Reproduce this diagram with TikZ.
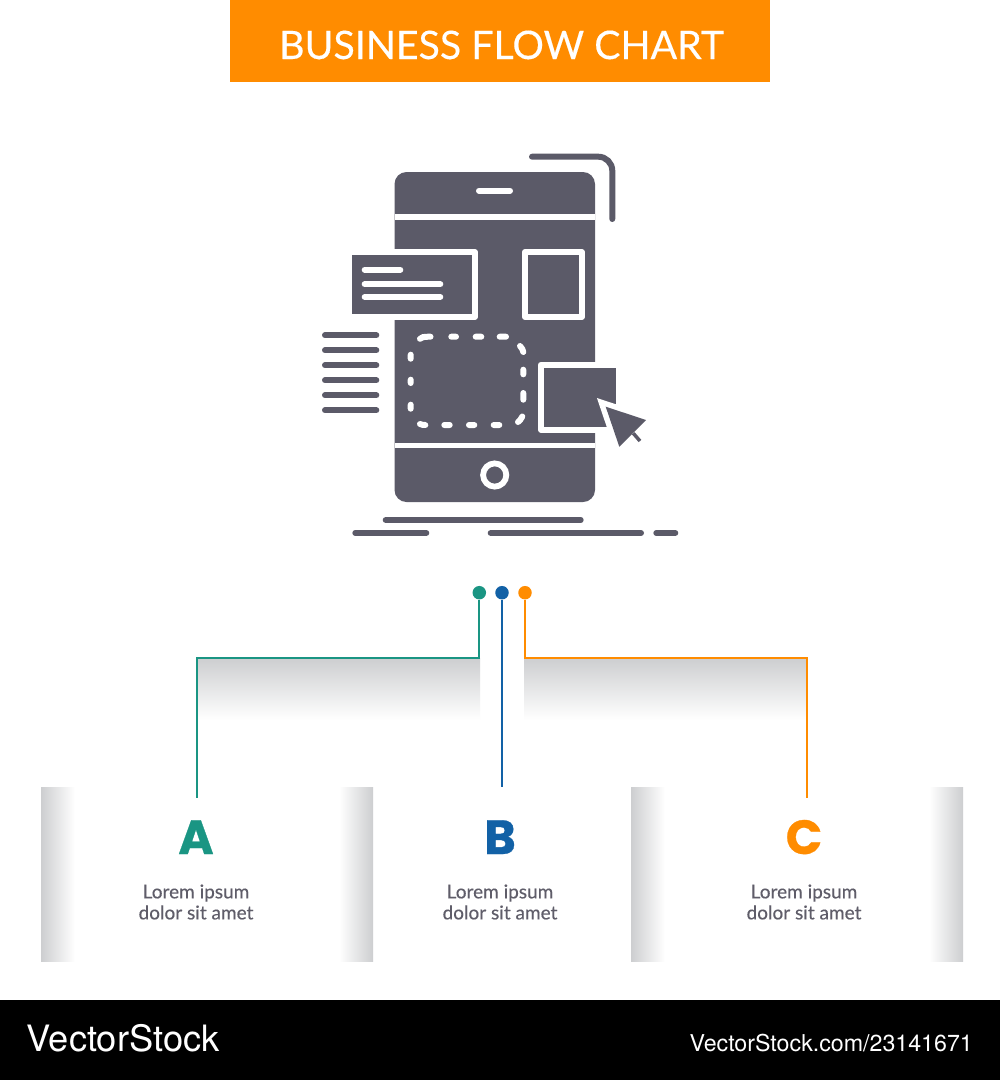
\documentclass[tikz,border=0pt]{standalone}
\usepackage{fontspec}
\setmainfont{Lato}
\newfontfamily\labelfont[FakeBold=0.25]{Lato}
\newfontfamily\letterfont[FakeBold=0.6]{Poppins}
\newfontfamily\markfont{TeX Gyre Heros}
\definecolor{icongray}{HTML}{5B5A68}
\definecolor{labelgray}{HTML}{5F5D69}
\definecolor{fadegray}{HTML}{CDCED0}
\definecolor{midgray}{HTML}{F3F3F4}
\definecolor{markteal}{HTML}{1A9583}
\definecolor{markblue}{HTML}{1261A6}
\definecolor{markorange}{HTML}{FF8C00}
\tikzset{
	iconbar/.style={draw=icongray, line width=6pt, line cap=round},
	whitebar/.style={draw=white, line width=6pt, line cap=round},
	iconcard/.style={draw=white, line width=6pt, line join=round, fill=icongray, inner sep=0pt, minimum height=65pt},
	strip/.style={inner sep=0pt, minimum width=34pt, minimum height=174pt, shading=axis},
	topfade/.style={inner sep=0pt, minimum width=283pt, minimum height=62pt, top color=fadegray, middle color=midgray, bottom color=white},
	dotnode/.style={circle, inner sep=0pt, minimum size=13.5pt},
	wire/.style={line width=2pt},
	letternode/.style={font=\letterfont\bfseries\fontsize{48}{48}\selectfont, anchor=base},
	loremnode/.style={font=\labelfont\fontsize{19}{21}\selectfont, text=labelgray, align=center}
}

\begin{document}
\begin{tikzpicture}[x=1pt, y=-1pt]
\path[use as bounding box, fill=white] (0,0) rectangle (1000,1080);

% header and footer
\node[fill=markorange, inner sep=0pt, minimum width=540pt, minimum height=82pt] (header) at (500,41) {};
\node[text=white, anchor=base, font=\labelfont\fontsize{39.3}{41}\selectfont] (title) at (501.5,59) {BUSINESS FLOW CHART};
\node[fill=black, inner sep=0pt, minimum width=1000pt, minimum height=80pt] (footer) at (500,1040) {};
\node[text=white, anchor=base west, inner sep=0pt, font=\markfont\fontsize{36.3}{36}\selectfont] (markleft) at (26.5,1051.5) {VectorStock};
\node[text=white, anchor=base east, inner sep=0pt, font=\markfont\fontsize{23.2}{24}\selectfont] (markright) at (973,1051) {VectorStock.com/23141671};

% phone
\fill[icongray, rounded corners=12pt] (394.5,172) rectangle (595,502);
\fill[white] (394.5,214) rectangle (595,220);
\fill[white] (394.5,442.7) rectangle (595,448.3);
\draw[whitebar] (479,190.7) -- (510,190.7);
\node[circle, draw=white, line width=5.8pt, fill=icongray, inner sep=0pt, minimum size=23.2pt] (homekey) at (494.7,475) {};
\draw[iconbar, rounded corners=14pt] (532,156.7) -- (612.3,156.7) -- (612.3,219);

% cards
\node[iconcard, minimum width=126pt] (msgcard) at (411.7,284.5) {};
\node[iconcard, minimum width=56.7pt] (piccard) at (553.35,284.5) {};
\draw[whitebar] (364.7,269.7) -- (400.3,269.7);
\draw[whitebar] (364.7,284.3) -- (440.3,284.3);
\draw[whitebar] (364.7,297) -- (440.3,297);

\foreach \j in {335.3, 350.3, 365.3, 380.3, 395.3, 410.3}
	\draw[iconbar] (325,\j) -- (376.3,\j);

% dashed slot
\draw[whitebar] (420,338.8) .. controls (421.5,337.2) and (423,336.7) .. (430.5,336.7)
	(451.3,336.7) -- (456,336.7) (475.7,336.7) -- (481.3,336.7) (499.7,336.7) -- (506,336.7)
	(520,346) .. controls (522,348) and (523,350) .. (523.3,352)
	(523.3,369.7) -- (523.3,374.3) (523.3,393) -- (523.3,399.7)
	(522.3,416.5) .. controls (521,419) and (520,420.5) .. (518,422)
	(499.3,425) -- (493.7,425) (474.3,425) -- (469,425) (449.7,425) -- (444.3,425)
	(425.3,425) .. controls (423,425) and (421.5,424.7) .. (420,424)
	(410.7,408.7) -- (410.7,404.7) (410.7,383) -- (410.7,379.7) (410.7,358.7) -- (410.7,354.7);

% dragged card and pointer
\node[iconcard, minimum width=78pt] (dragcard) at (580,397.2) {};
\draw[draw=white, line width=11pt, miter limit=10] (605.7,406.7) -- (646,420) -- (619.3,446.7) -- cycle;
\fill[icongray] (605.7,406.7) -- (646,420) -- (619.3,446.7) -- cycle;
\draw[draw=icongray, line width=3.5pt] (633.3,433.3) -- (640,441);

% ground lines
\draw[iconbar] (385.7,520) -- (580.7,520);
\draw[iconbar] (355.3,533) -- (426.3,533);
\draw[iconbar] (490.7,533) -- (641,533);
\draw[iconbar] (656.3,533) -- (675.3,533);

% shadows
\node[topfade] (fadeA) at (338.5,689) {};
\node[topfade] (fadeC) at (665.5,689) {};
\foreach \i in {58, 648}
	\node[strip, left color=fadegray, middle color=midgray, right color=white] (strip\i) at (\i,874) {};
\foreach \i in {356, 946}
	\node[strip, left color=white, middle color=midgray, right color=fadegray] (strip\i) at (\i,874) {};

% dots and wires
\node[dotnode, fill=markteal] (dotA) at (479.3,592.7) {};
\node[dotnode, fill=markblue] (dotB) at (502,592.7) {};
\node[dotnode, fill=markorange] (dotC) at (525,592.7) {};
\coordinate (bendA) at (197,658);
\coordinate (endA) at (197,797.7);
\coordinate (endB) at (502,787);
\coordinate (bendC) at (807,658);
\coordinate (endC) at (807,797.7);
\draw[wire, draw=markteal] (dotA) |- (bendA) -- (endA);
\draw[wire, draw=markblue] (dotB) -- (endB);
\draw[wire, draw=markorange] (dotC) |- (bendC) -- (endC);

% labels
\foreach \name/\x/\col in {A/196/markteal, B/500/markblue, C/804/markorange} {
	\node[letternode, text=\col] (letter\name) at (\x,854) {\name};
	\node[loremnode] (lorem\name) at (\x,902) {Lorem ipsum\\dolor sit amet};
}
\end{tikzpicture}
\end{document}
